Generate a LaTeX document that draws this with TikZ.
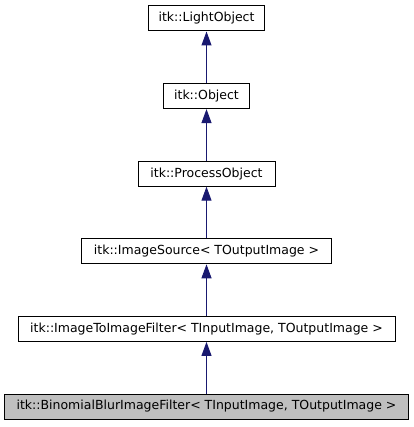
\documentclass[tikz,border=0pt]{standalone}
\usepackage{fontspec}
\setmainfont{DejaVu Sans}
\usetikzlibrary{arrows.meta}
\definecolor{edgeblue}{RGB}{25,25,112}
\definecolor{hlgray}{RGB}{191,191,191}
\begin{document}
\begin{tikzpicture}[x=1pt,y=-1pt,
  cls/.style={draw=black,line width=1pt,fill=white,minimum height=25pt,inner xsep=0pt,inner ysep=0pt,anchor=north,font=\fontsize{12.5}{14}\selectfont},
  inh/.style={draw=edgeblue,line width=1pt,-{Triangle[length=14pt,width=10pt]}}]
\useasboundingbox (0,0) rectangle (413,427);
\node[cls,minimum width=116pt] (lo) at (206.5,5.5) {itk::LightObject};
\node[cls,minimum width=86pt] (ob) at (206.5,83.1) {itk::Object};
\node[cls,minimum width=137pt] (po) at (206.5,160.7) {itk::ProcessObject};
\node[cls,minimum width=250pt] (is) at (206.5,238.3) {itk::ImageSource< TOutputImage >};
\node[cls,minimum width=377pt] (itif) at (206.5,315.9) {itk::ImageToImageFilter< TInputImage, TOutputImage >};
\node[cls,minimum width=404pt,fill=hlgray] (bb) at (206.5,393.5) {itk::BinomialBlurImageFilter< TInputImage, TOutputImage >};
\draw[inh] (ob.north) -- (lo.south);
\draw[inh] (po.north) -- (ob.south);
\draw[inh] (is.north) -- (po.south);
\draw[inh] (itif.north) -- (is.south);
\draw[inh] (bb.north) -- (itif.south);
\end{tikzpicture}
\end{document}
